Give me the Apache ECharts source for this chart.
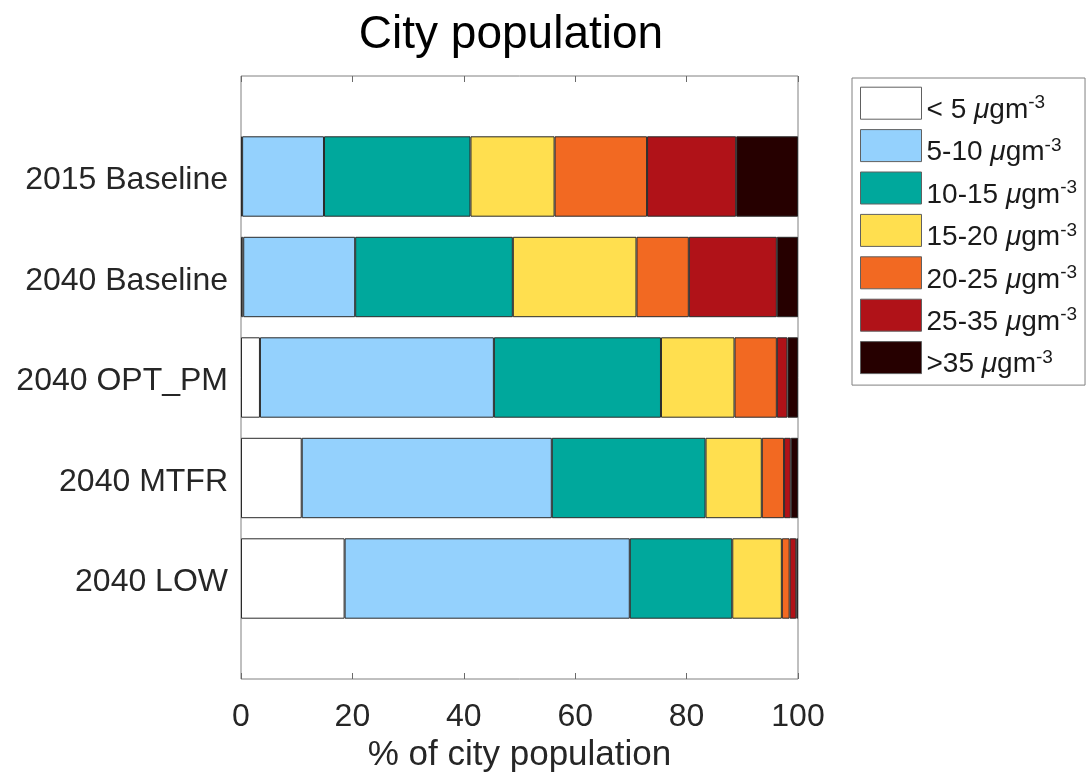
<!DOCTYPE html>
<html>
<head>
<meta charset="utf-8">
<script src="https://cdn.jsdelivr.net/npm/echarts@6/dist/echarts.min.js"></script>
<style>
  html, body { margin: 0; padding: 0; background: #fff; }
  #chart { width: 1086px; height: 778px; }
</style>
</head>
<body>
<div id="chart"></div>
<script>
// Scenarios, listed top to bottom
const scenarios = ['2015 Baseline', '2040 Baseline', '2040 OPT_PM', '2040 MTFR', '2040 LOW'];

// Concentration bands (legend order)
const bands = ['< 5', '5-10', '10-15', '15-20', '20-25', '25-35', '>35'];

// Share of city population (%) in each band, one value per scenario
const below5   = [0.2, 0.4, 3.4, 10.9, 18.6];
const b5to10   = [14.7, 20.1, 42.0, 44.9, 51.2];
const b10to15  = [26.3, 28.3, 30.0, 27.6, 18.4];
const b15to20  = [15.1, 22.2, 13.2, 10.1, 8.9];
const b20to25  = [16.6, 9.4, 7.6, 4.0, 1.4];
const b25to35  = [16.0, 15.8, 1.9, 1.2, 1.2];
const above35  = [11.1, 3.8, 1.9, 1.3, 0.3];

const xTicks = [0, 20, 40, 60, 80, 100];

const bandValues = [below5, b5to10, b10to15, b15to20, b20to25, b25to35, above35];
const bandColors = ['#ffffff', '#94d1fd', '#00a89c', '#ffdf4f', '#f26922', '#b01218', '#260000'];

const FONT = 'Liberation Sans, Arial, sans-serif';

// empty slots above and below the bars give the axis its padding
const yData = [''].concat(scenarios, ['']);

const series = bands.map((name, i) => ({
  name: name,
  type: 'bar',
  stack: 'pop',
  barWidth: '80%',
  data: ['-'].concat(bandValues[i], ['-']),
  itemStyle: { color: bandColors[i], borderColor: '#2a2a2a', borderWidth: 1 },
  emphasis: { disabled: true }
}));

const chart = echarts.init(document.getElementById('chart'), null, { renderer: 'canvas' });

chart.setOption({
  animation: false,
  backgroundColor: '#fff',
  textStyle: { fontFamily: FONT },
  title: {
    text: 'City population',
    left: 506,
    top: 7,
    textAlign: 'center',
    textStyle: { fontFamily: FONT, fontSize: 46, fontWeight: 'normal', color: '#000' }
  },
  grid: {
    left: 241, right: 288, top: 76, bottom: 99,
    outerBoundsMode: 'none',
    containLabel: false,
    show: true, borderColor: '#808080', borderWidth: 1, backgroundColor: 'transparent'
  },
  legend: {
    orient: 'vertical',
    left: 852, top: 78,
    padding: [8.7, 8, 6.5, 8],
    itemWidth: 61, itemHeight: 32, itemGap: 4.9,
    borderColor: '#808080', borderWidth: 1, backgroundColor: '#fff',
    icon: 'rect',
    selectedMode: false,
    itemStyle: { borderColor: '#606060', borderWidth: 1 },
    formatter: name => '{t|' + name + ' }{mu|\u03bc}{t|gm}{sup|-3}',
    textStyle: {
      fontFamily: FONT, fontSize: 28, color: '#1a1a1a',
      rich: {
        t: { fontFamily: FONT, fontSize: 28, color: '#1a1a1a', lineHeight: 26, verticalAlign: 'bottom' },
        mu: { fontFamily: FONT, fontSize: 28, fontStyle: 'italic', color: '#1a1a1a', lineHeight: 26, verticalAlign: 'bottom' },
        sup: { fontFamily: FONT, fontSize: 19, color: '#1a1a1a', lineHeight: 42, verticalAlign: 'middle' }
      }
    },
    data: bands
  },
  xAxis: [{
    type: 'value', min: 0, max: 100, interval: 20,
    position: 'bottom',
    name: '% of city population',
    nameLocation: 'middle',
    nameGap: 58,
    nameTextStyle: { fontFamily: FONT, fontSize: 35, color: '#262626' },
    axisLine: { show: false },
    axisTick: { show: true, inside: true, length: 6, lineStyle: { color: '#6a6a6a' } },
    splitLine: { show: false },
    axisLabel: { margin: 22, fontFamily: FONT, fontSize: 32, color: '#262626',
                 formatter: v => xTicks.indexOf(v) >= 0 ? String(v) : '' }
  }, {
    type: 'value', min: 0, max: 100, interval: 20,
    position: 'top',
    axisLine: { show: false },
    axisTick: { show: true, inside: true, length: 6, lineStyle: { color: '#6a6a6a' } },
    splitLine: { show: false },
    axisLabel: { show: false }
  }],
  yAxis: {
    type: 'category',
    data: yData,
    inverse: true,
    boundaryGap: false,
    axisLine: { show: false },
    axisTick: { show: false },
    splitLine: { show: false },
    axisLabel: { interval: 0, margin: 13, verticalAlign: 'top', lineHeight: 8,
                 fontFamily: FONT, fontSize: 32, color: '#262626' }
  },
  series: series
});
</script>
</body>
</html>
